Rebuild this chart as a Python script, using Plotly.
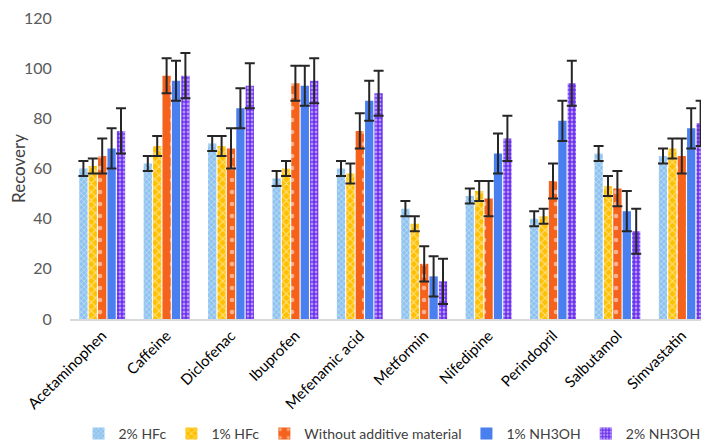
import plotly.graph_objects as go

compounds = ["Acetaminophen", "Caffeine", "Diclofenac", "Ibuprofen", "Mefenamic acid",
             "Metformin", "Nifedipine", "Perindopril", "Salbutamol", "Simvastatin"]

hfc2 = [60, 62, 70, 56, 60, 44, 49, 40, 66, 65]
hfc1 = [61, 69, 69, 60, 58, 38, 51, 41, 53, 68]
no_additive = [65, 97, 68, 94, 75, 22, 48, 55, 52, 65]
nh3oh1 = [68, 95, 84, 93, 87, 17, 66, 79, 43, 76]
nh3oh2 = [75, 97, 93, 95, 90, 15, 72, 94, 35, 78]

err_hfc2 = [3, 3, 3, 3, 3, 3, 3, 3, 3, 3]
err_hfc1 = [3, 4, 4, 3, 4, 3, 4, 3, 4, 4]
err_no_additive = [7, 7, 8, 7, 7, 7, 7, 7, 7, 7]
err_nh3oh1 = [8, 8, 8, 8, 8, 8, 8, 8, 8, 8]
err_nh3oh2 = [9, 9, 9, 9, 9, 9, 9, 9, 9, 9]

series = [
    ("2% HFc", hfc2, err_hfc2, dict(shape="x", bgcolor="#8fc3ef", fgcolor="#ffffff", size=4, solidity=0.3)),
    ("1% HFc", hfc1, err_hfc1, dict(shape="x", bgcolor="#ffc000", fgcolor="#ffffff", size=6, solidity=0.35)),
    ("Without additive material", no_additive, err_no_additive, dict(shape=".", bgcolor="#f5621c", fgcolor="#ffffff", size=12, solidity=0.12)),
    ("1% NH3OH", nh3oh1, err_nh3oh1, dict(shape="")),
    ("2% NH3OH", nh3oh2, err_nh3oh2, dict(shape=".", bgcolor="#6a2ff0", fgcolor="#ffffff", size=4, solidity=0.4)),
]
solid = ["#8fc3ef", "#ffc000", "#f5621c", "#4a7ff0", "#6a2ff0"]

fig = go.Figure()
for (name, vals, errs, pat), col in zip(series, solid):
    fig.add_trace(go.Bar(
        name=name, x=compounds, y=vals,
        marker=dict(color=col, pattern=pat, line=dict(width=0)),
        error_y=dict(type="data", array=errs, color="#262626", thickness=2, width=5),
    ))

fig.update_layout(
    barmode="group", bargap=0.27, bargroupgap=0.12,
    width=709, height=443,
    margin=dict(l=62, r=3, t=10, b=131),
    plot_bgcolor="white", paper_bgcolor="white",
    font=dict(family="Lato", color="#595959", size=14),
    legend=dict(orientation="h", x=0.5, xanchor="center", y=-0.43, yanchor="bottom",
                font=dict(size=14, color="#404040"), itemwidth=30, tracegroupgap=0),
    showlegend=True,
)
fig.update_yaxes(range=[0, 120], dtick=20, showgrid=False, zeroline=False, automargin=False,
                 title=dict(text="Recovery", font=dict(size=17, color="#404040"), standoff=10),
                 tickfont=dict(size=16, color="#595959"), ticks="outside", ticklen=14,
                 tickcolor="rgba(0,0,0,0)", showline=False, ticklabeloverflow="allow")
fig.update_xaxes(tickangle=-45, showgrid=False, showline=True, linecolor="#d9d9d9", linewidth=2,
                 automargin=False, tickfont=dict(size=15, color="#000000"), ticks="")

fig.write_html("out.html")
